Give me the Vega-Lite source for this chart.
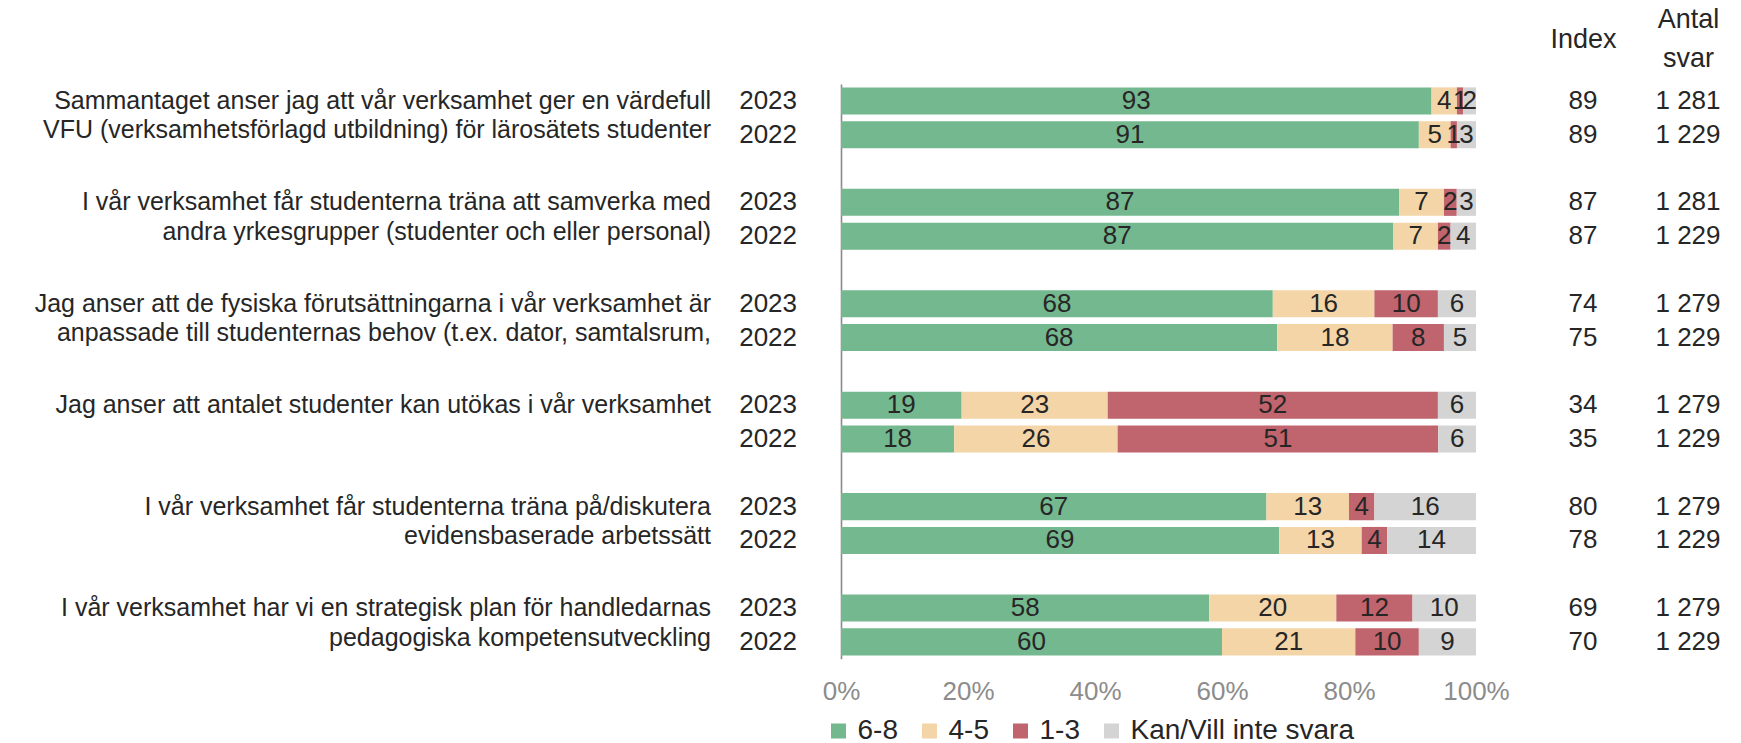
{
  "$schema": "https://vega.github.io/schema/vega-lite/v6.json",
  "padding": {"left": 0, "top": 6, "right": 0, "bottom": 0},
  "background": "white",
  "config": {"view": {"stroke": null}, "font": "Liberation Sans"},
  "datasets": {
    "rows": [
      {"row": "q1-2023", "year": "2023", "question": "Sammantaget anser jag att vår verksamhet ger en värdefull\nVFU (verksamhetsförlagd utbildning) för lärosätets studenter", "Index": "89", "Antal svar": "1 281"},
      {"row": "q1-2022", "year": "2022", "question": "Sammantaget anser jag att vår verksamhet ger en värdefull\nVFU (verksamhetsförlagd utbildning) för lärosätets studenter", "Index": "89", "Antal svar": "1 229"},
      {"row": "q2-2023", "year": "2023", "question": "I vår verksamhet får studenterna träna att samverka med\nandra yrkesgrupper (studenter och eller personal)", "Index": "87", "Antal svar": "1 281"},
      {"row": "q2-2022", "year": "2022", "question": "I vår verksamhet får studenterna träna att samverka med\nandra yrkesgrupper (studenter och eller personal)", "Index": "87", "Antal svar": "1 229"},
      {"row": "q3-2023", "year": "2023", "question": "Jag anser att de fysiska förutsättningarna i vår verksamhet är\nanpassade till studenternas behov (t.ex. dator, samtalsrum,", "Index": "74", "Antal svar": "1 279"},
      {"row": "q3-2022", "year": "2022", "question": "Jag anser att de fysiska förutsättningarna i vår verksamhet är\nanpassade till studenternas behov (t.ex. dator, samtalsrum,", "Index": "75", "Antal svar": "1 229"},
      {"row": "q4-2023", "year": "2023", "question": "Jag anser att antalet studenter kan utökas i vår verksamhet", "Index": "34", "Antal svar": "1 279"},
      {"row": "q4-2022", "year": "2022", "question": "Jag anser att antalet studenter kan utökas i vår verksamhet", "Index": "35", "Antal svar": "1 229"},
      {"row": "q5-2023", "year": "2023", "question": "I vår verksamhet får studenterna träna på/diskutera\nevidensbaserade arbetssätt", "Index": "80", "Antal svar": "1 279"},
      {"row": "q5-2022", "year": "2022", "question": "I vår verksamhet får studenterna träna på/diskutera\nevidensbaserade arbetssätt", "Index": "78", "Antal svar": "1 229"},
      {"row": "q6-2023", "year": "2023", "question": "I vår verksamhet har vi en strategisk plan för handledarnas\npedagogiska kompetensutveckling", "Index": "69", "Antal svar": "1 279"},
      {"row": "q6-2022", "year": "2022", "question": "I vår verksamhet har vi en strategisk plan för handledarnas\npedagogiska kompetensutveckling", "Index": "70", "Antal svar": "1 229"}
    ],
    "bars": [
      {"row": "q1-2023", "cat": "6-8", "k": 1, "value": 93},
      {"row": "q1-2023", "cat": "4-5", "k": 2, "value": 4},
      {"row": "q1-2023", "cat": "1-3", "k": 3, "value": 1},
      {"row": "q1-2023", "cat": "Kan/Vill inte svara", "k": 4, "value": 2},
      {"row": "q1-2022", "cat": "6-8", "k": 1, "value": 91},
      {"row": "q1-2022", "cat": "4-5", "k": 2, "value": 5},
      {"row": "q1-2022", "cat": "1-3", "k": 3, "value": 1},
      {"row": "q1-2022", "cat": "Kan/Vill inte svara", "k": 4, "value": 3},
      {"row": "q2-2023", "cat": "6-8", "k": 1, "value": 87},
      {"row": "q2-2023", "cat": "4-5", "k": 2, "value": 7},
      {"row": "q2-2023", "cat": "1-3", "k": 3, "value": 2},
      {"row": "q2-2023", "cat": "Kan/Vill inte svara", "k": 4, "value": 3},
      {"row": "q2-2022", "cat": "6-8", "k": 1, "value": 87},
      {"row": "q2-2022", "cat": "4-5", "k": 2, "value": 7},
      {"row": "q2-2022", "cat": "1-3", "k": 3, "value": 2},
      {"row": "q2-2022", "cat": "Kan/Vill inte svara", "k": 4, "value": 4},
      {"row": "q3-2023", "cat": "6-8", "k": 1, "value": 68},
      {"row": "q3-2023", "cat": "4-5", "k": 2, "value": 16},
      {"row": "q3-2023", "cat": "1-3", "k": 3, "value": 10},
      {"row": "q3-2023", "cat": "Kan/Vill inte svara", "k": 4, "value": 6},
      {"row": "q3-2022", "cat": "6-8", "k": 1, "value": 68},
      {"row": "q3-2022", "cat": "4-5", "k": 2, "value": 18},
      {"row": "q3-2022", "cat": "1-3", "k": 3, "value": 8},
      {"row": "q3-2022", "cat": "Kan/Vill inte svara", "k": 4, "value": 5},
      {"row": "q4-2023", "cat": "6-8", "k": 1, "value": 19},
      {"row": "q4-2023", "cat": "4-5", "k": 2, "value": 23},
      {"row": "q4-2023", "cat": "1-3", "k": 3, "value": 52},
      {"row": "q4-2023", "cat": "Kan/Vill inte svara", "k": 4, "value": 6},
      {"row": "q4-2022", "cat": "6-8", "k": 1, "value": 18},
      {"row": "q4-2022", "cat": "4-5", "k": 2, "value": 26},
      {"row": "q4-2022", "cat": "1-3", "k": 3, "value": 51},
      {"row": "q4-2022", "cat": "Kan/Vill inte svara", "k": 4, "value": 6},
      {"row": "q5-2023", "cat": "6-8", "k": 1, "value": 67},
      {"row": "q5-2023", "cat": "4-5", "k": 2, "value": 13},
      {"row": "q5-2023", "cat": "1-3", "k": 3, "value": 4},
      {"row": "q5-2023", "cat": "Kan/Vill inte svara", "k": 4, "value": 16},
      {"row": "q5-2022", "cat": "6-8", "k": 1, "value": 69},
      {"row": "q5-2022", "cat": "4-5", "k": 2, "value": 13},
      {"row": "q5-2022", "cat": "1-3", "k": 3, "value": 4},
      {"row": "q5-2022", "cat": "Kan/Vill inte svara", "k": 4, "value": 14},
      {"row": "q6-2023", "cat": "6-8", "k": 1, "value": 58},
      {"row": "q6-2023", "cat": "4-5", "k": 2, "value": 20},
      {"row": "q6-2023", "cat": "1-3", "k": 3, "value": 12},
      {"row": "q6-2023", "cat": "Kan/Vill inte svara", "k": 4, "value": 10},
      {"row": "q6-2022", "cat": "6-8", "k": 1, "value": 60},
      {"row": "q6-2022", "cat": "4-5", "k": 2, "value": 21},
      {"row": "q6-2022", "cat": "1-3", "k": 3, "value": 10},
      {"row": "q6-2022", "cat": "Kan/Vill inte svara", "k": 4, "value": 9}
    ]
  },
  "bounds": "flush",
  "spacing": 44,
  "hconcat": [
    {
      "width": 711,
      "height": 574.8,
      "data": {"name": "rows"},
      "transform": [{"filter": "datum.year == '2023'"}],
      "mark": {"type": "text", "align": "right", "baseline": "middle", "lineBreak": "\n", "lineHeight": 29.5, "fontSize": 25, "color": "#262626", "font": "Liberation Sans"},
      "encoding": {
        "x": {"value": "width"},
        "y": {"field": "row", "type": "nominal", "bandPosition": 1.125, "axis": null,
          "scale": {"domain": ["q1-2023","q1-2022","gap1","q2-2023","q2-2022","gap2","q3-2023","q3-2022","gap3","q4-2023","q4-2022","gap4","q5-2023","q5-2022","gap5","q6-2023","q6-2022"], "paddingInner": 0.2, "paddingOuter": 0.1}},
        "text": {"field": "question"}
      }
    },
    {
      "width": 42,
      "height": 574.8,
      "data": {"name": "rows"},
      "mark": {"type": "text", "align": "right", "baseline": "middle", "fontSize": 26, "color": "#262626", "font": "Liberation Sans"},
      "encoding": {
        "x": {"value": "width"},
        "y": {"field": "row", "type": "nominal", "axis": null,
          "scale": {"domain": ["q1-2023","q1-2022","gap1","q2-2023","q2-2022","gap2","q3-2023","q3-2022","gap3","q4-2023","q4-2022","gap4","q5-2023","q5-2022","gap5","q6-2023","q6-2022"], "paddingInner": 0.2, "paddingOuter": 0.1}},
        "text": {"field": "year"}
      }
    },
    {
      "width": 635,
      "height": 574.8,
      "data": {"name": "bars"},
      "encoding": {
        "y": {"field": "row", "type": "nominal",
          "scale": {"domain": ["q1-2023","q1-2022","gap1","q2-2023","q2-2022","gap2","q3-2023","q3-2022","gap3","q4-2023","q4-2022","gap4","q5-2023","q5-2022","gap5","q6-2023","q6-2022"], "paddingInner": 0.2, "paddingOuter": 0.1},
          "axis": {"title": null, "labels": false, "ticks": false, "tickSize": 0, "domainColor": "#8a8a8a", "domainWidth": 1.6, "grid": false}},
        "order": {"field": "k", "type": "quantitative"}
      },
      "layer": [
        {
          "mark": {"type": "bar"},
          "encoding": {
            "x": {"field": "value", "type": "quantitative", "stack": "normalize",
              "scale": {"domain": [0, 1]},
              "axis": {"title": null, "values": [0, 0.2, 0.4, 0.6, 0.8, 1], "format": "%", "domain": false, "ticks": false, "tickSize": 0, "grid": false, "labelPadding": 20, "labelFontSize": 26, "labelColor": "#8c8c8c", "labelFont": "Liberation Sans", "labelFlush": false}},
            "color": {"field": "cat", "type": "nominal",
              "scale": {"domain": ["6-8", "4-5", "1-3", "Kan/Vill inte svara"], "range": ["#74b88f", "#f4d5a8", "#c0646d", "#d4d4d4"]},
              "legend": {"orient": "none", "legendX": 824.5, "legendY": 633, "direction": "horizontal", "title": null, "symbolType": "square", "symbolSize": 225, "symbolStrokeWidth": 0, "labelFontSize": 28, "labelLimit": 0, "labelColor": "#262626", "labelFont": "Liberation Sans", "columnPadding": 17, "labelOffset": 5, "padding": 0}}
          }
        },
        {
          "mark": {"type": "text", "align": "center", "baseline": "middle", "fontSize": 26, "color": "#262626", "font": "Liberation Sans"},
          "encoding": {
            "x": {"field": "value", "type": "quantitative", "stack": "normalize", "bandPosition": 0.5},
            "detail": {"field": "cat"},
            "text": {"field": "value"}
          }
        }
      ]
    },
    {
      "width": 231,
      "height": 574.8,
      "data": {"name": "rows"},
      "transform": [{"fold": ["Index", "Antal svar"], "as": ["col", "val"]}],
      "mark": {"type": "text", "align": "center", "baseline": "middle", "fontSize": 26, "color": "#262626", "font": "Liberation Sans"},
      "encoding": {
        "x": {"field": "col", "type": "nominal",
          "scale": {"type": "point", "domain": ["Index", "Antal svar"], "padding": 0.6},
          "axis": {"orient": "top", "title": null, "domain": false, "ticks": false, "tickSize": 0, "labelAngle": 0,
            "labelPadding": {"condition": {"test": "datum.value == 'Index'", "value": 44.6}, "value": 64},
            "labelBaseline": "middle", "labelFontSize": 27, "labelColor": "#262626", "labelFont": "Liberation Sans", "labelLineHeight": 38.8, "labelOverlap": false,
            "labelExpr": "datum.value == 'Antal svar' ? ['Antal', 'svar'] : datum.value"}},
        "y": {"field": "row", "type": "nominal", "axis": null,
          "scale": {"domain": ["q1-2023","q1-2022","gap1","q2-2023","q2-2022","gap2","q3-2023","q3-2022","gap3","q4-2023","q4-2022","gap4","q5-2023","q5-2022","gap5","q6-2023","q6-2022"], "paddingInner": 0.2, "paddingOuter": 0.1}},
        "text": {"field": "val"}
      }
    }
  ]
}
